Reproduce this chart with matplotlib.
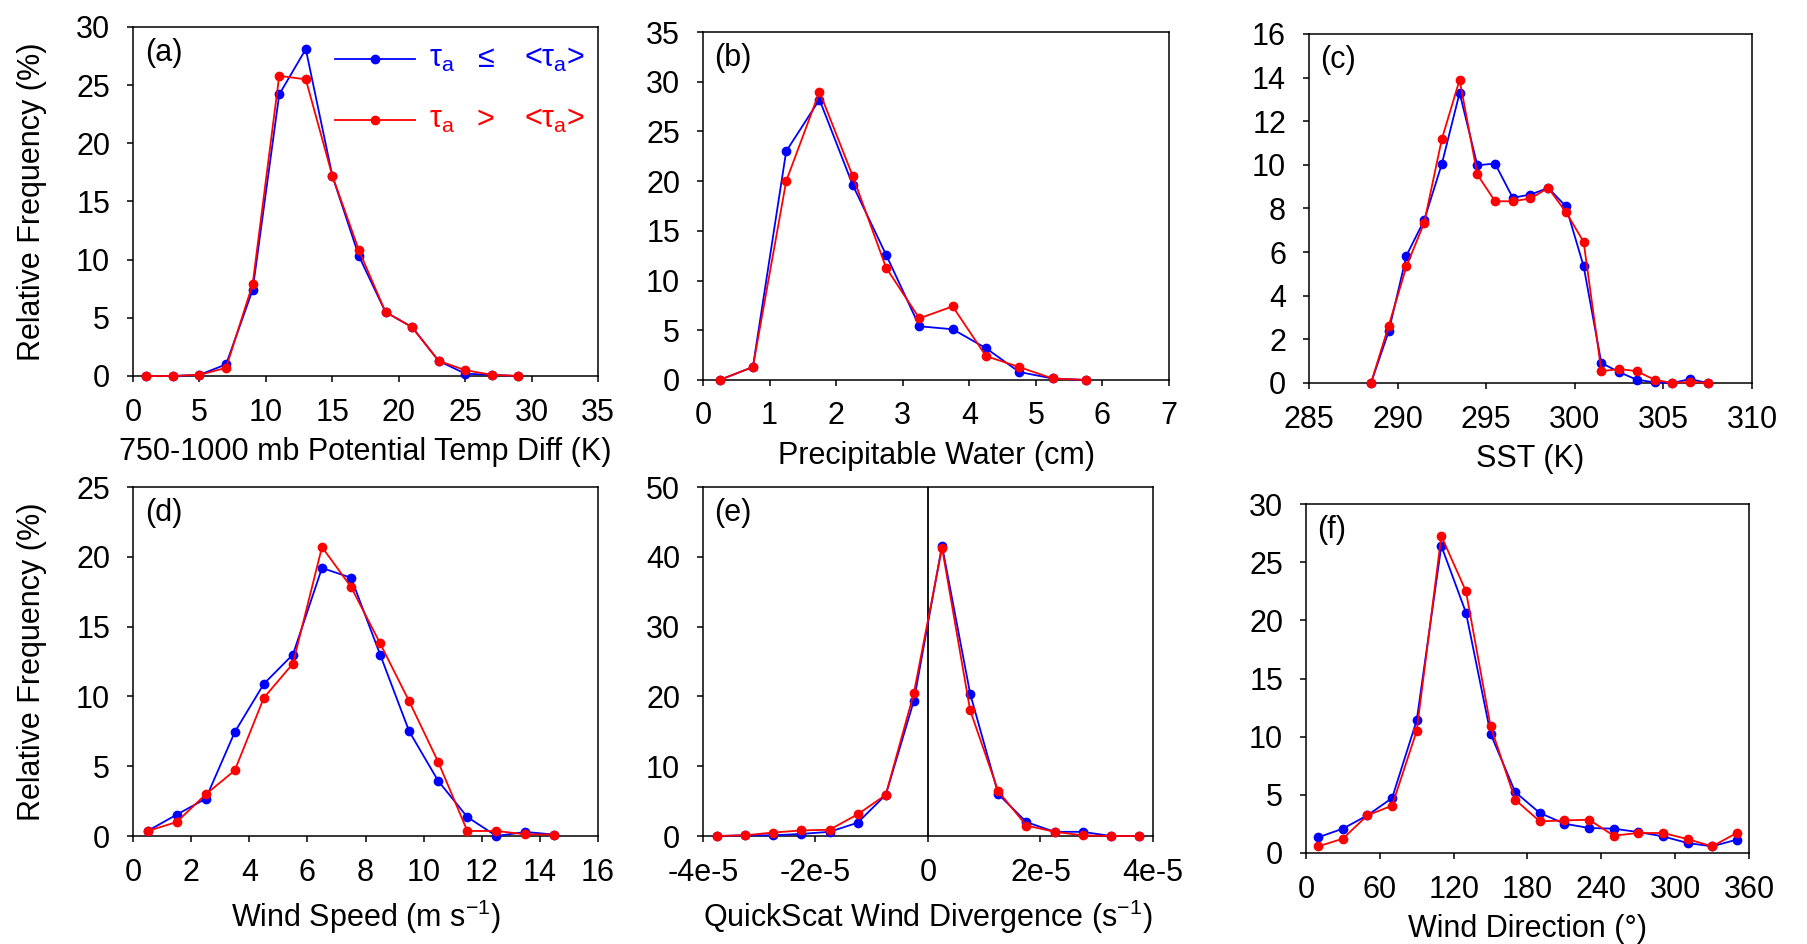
import numpy as np
import matplotlib
matplotlib.use("Agg")
import matplotlib.pyplot as plt
from matplotlib.ticker import FuncFormatter

plt.rcParams["font.family"] = ["Liberation Sans", "DejaVu Sans"]
plt.rcParams["mathtext.fontset"] = "custom"
plt.rcParams["mathtext.rm"] = "Liberation Sans"
plt.rcParams["mathtext.it"] = "Liberation Sans"
plt.rcParams["mathtext.bf"] = "Liberation Sans:bold"

# ---------------------------------------------------------------- data
# (a) 750-1000 mb potential temperature difference
theta_x = [1, 3, 5, 7, 9, 11, 13, 15, 17, 19, 21, 23, 25, 27, 29]
theta_lo = [0, 0, 0.1, 1.0, 7.4, 24.2, 28.1, 17.2, 10.3, 5.5, 4.2, 1.3, 0.2, 0.1, 0]
theta_hi = [0, 0, 0.1, 0.7, 7.9, 25.8, 25.5, 17.2, 10.8, 5.5, 4.2, 1.3, 0.5, 0.1, 0]

# (b) precipitable water
pw_x = [0.25, 0.75, 1.25, 1.75, 2.25, 2.75, 3.25, 3.75, 4.25, 4.75, 5.25, 5.75]
pw_lo = [0, 1.3, 23.0, 28.2, 19.6, 12.6, 5.4, 5.1, 3.2, 0.8, 0.15, 0]
pw_hi = [0, 1.3, 20.0, 29.0, 20.5, 11.3, 6.2, 7.4, 2.4, 1.3, 0.15, 0]

# (c) SST
sst_x = [288.5, 289.5, 290.5, 291.5, 292.5, 293.5, 294.5, 295.5, 296.5, 297.5,
         298.5, 299.5, 300.5, 301.5, 302.5, 303.5, 304.5, 305.5, 306.5, 307.5]
sst_lo = [0, 2.37, 5.84, 7.46, 10.05, 13.3, 9.98, 10.06, 8.49, 8.64,
          8.94, 8.1, 5.35, 0.92, 0.5, 0.15, 0.03, 0, 0.18, 0]
sst_hi = [0, 2.63, 5.35, 7.34, 11.19, 13.9, 9.56, 8.33, 8.33, 8.46,
          8.94, 7.84, 6.47, 0.54, 0.64, 0.54, 0.15, 0, 0.05, 0]

# (d) wind speed
ws_x = [0.5, 1.5, 2.5, 3.5, 4.5, 5.5, 6.5, 7.5, 8.5, 9.5, 10.5, 11.5, 12.5, 13.5, 14.5]
ws_lo = [0.36, 1.53, 2.67, 7.45, 10.9, 13.0, 19.2, 18.5, 13.0, 7.5, 3.94, 1.36, 0, 0.29, 0.1]
ws_hi = [0.36, 1.0, 2.98, 4.7, 9.9, 12.35, 20.7, 17.84, 13.8, 9.65, 5.3, 0.36, 0.36, 0.12, 0.1]

# (e) QuickScat wind divergence (s^-1)
div_x = [-3.75e-5, -3.25e-5, -2.75e-5, -2.25e-5, -1.75e-5, -1.25e-5, -0.75e-5, -0.25e-5,
         0.25e-5, 0.75e-5, 1.25e-5, 1.75e-5, 2.25e-5, 2.75e-5, 3.25e-5, 3.75e-5]
div_lo = [0, 0.1, 0.1, 0.3, 0.6, 1.9, 5.9, 19.4, 41.6, 20.4, 6.0, 2.0, 0.6, 0.6, 0, 0]
div_hi = [0, 0.1, 0.5, 0.8, 0.9, 3.1, 5.9, 20.5, 41.3, 18.0, 6.4, 1.5, 0.6, 0.1, 0, 0]

# (f) wind direction
wd_x = [10, 30, 50, 70, 90, 110, 130, 150, 170, 190, 210, 230, 250, 270, 290, 310, 330, 350]
wd_lo = [1.35, 2.09, 3.24, 4.72, 11.4, 26.4, 20.67, 10.25, 5.24, 3.44, 2.52, 2.15, 2.09, 1.8, 1.43, 0.86, 0.57, 1.15]
wd_hi = [0.57, 1.23, 3.24, 4.07, 10.5, 27.25, 22.5, 10.9, 4.58, 2.72, 2.8, 2.86, 1.49, 1.72, 1.72, 1.2, 0.57, 1.72]

BLUE = "#0000ff"
RED = "#ff0000"
FS = 22

fig = plt.figure(figsize=(18.08, 9.44), dpi=100)

boxes = {
    "a": [0.0736, 0.6017, 0.2572, 0.3697],
    "b": [0.3888, 0.5975, 0.2578, 0.3686],
    "c": [0.7240, 0.5943, 0.2450, 0.3697],
    "d": [0.0736, 0.1144, 0.2572, 0.3697],
    "e": [0.3888, 0.1144, 0.2489, 0.3697],
    "f": [0.7223, 0.0964, 0.2451, 0.3697],
}

panels = [
    ("a", theta_x, theta_lo, theta_hi, (0, 35), np.arange(0, 36, 5), (0, 30), np.arange(0, 31, 5),
     "750-1000 mb Potential Temp Diff (K)"),
    ("b", pw_x, pw_lo, pw_hi, (0, 7), np.arange(0, 8, 1), (0, 35), np.arange(0, 36, 5),
     "Precipitable Water (cm)"),
    ("c", sst_x, sst_lo, sst_hi, (285, 310), np.arange(285, 311, 5), (0, 16), np.arange(0, 17, 2),
     "SST (K)"),
    ("d", ws_x, ws_lo, ws_hi, (0, 16), np.arange(0, 17, 2), (0, 25), np.arange(0, 26, 5),
     r"Wind Speed (m s$^{\mathrm{-1}}$)"),
    ("e", div_x, div_lo, div_hi, (-4e-5, 4e-5), np.arange(-4e-5, 4.1e-5, 2e-5), (0, 50), np.arange(0, 51, 10),
     r"QuickScat Wind Divergence (s$^{\mathrm{-1}}$)"),
    ("f", wd_x, wd_lo, wd_hi, (0, 360), np.arange(0, 361, 60), (0, 30), np.arange(0, 31, 5),
     "Wind Direction (°)"),
]


def div_fmt(v, pos):
    if abs(v) < 1e-12:
        return "0"
    return f"{v * 1e5:.0f}e-5"


axes = {}
for key, x, lo, hi, xl, xt, yl, yt, xlabel in panels:
    ax = fig.add_axes(boxes[key])
    axes[key] = ax
    ax.plot(x, lo, "-o", color=BLUE, lw=1.3, ms=6, zorder=3, clip_on=False)
    ax.plot(x, hi, "-o", color=RED, lw=1.3, ms=6, zorder=4, clip_on=False)
    ax.set_xlim(*xl)
    ax.set_ylim(*yl)
    ax.set_xticks(xt)
    ax.set_yticks(yt)
    for s in ax.spines.values():
        s.set_linewidth(1.1)
    ax.tick_params(direction="out", length=4.5, width=1.1, labelsize=FS,
                   top=False, right=False)
    ax.tick_params(axis="x", pad=11)
    ax.tick_params(axis="y", pad=12)
    ax.set_xlabel(xlabel, fontsize=FS, labelpad=7)
    ax.text(0.025, 0.925, f"({key})", transform=ax.transAxes, fontsize=FS,
            ha="left", va="center")

axes["e"].xaxis.set_major_formatter(FuncFormatter(div_fmt))
axes["e"].axvline(0, color="black", lw=1.3, zorder=2)

for key in ("a", "d"):
    axes[key].set_ylabel("Relative Frequency (%)", fontsize=FS)
    axes[key].yaxis.set_label_coords(-0.185, 0.5)

# legend drawn by hand inside panel (a)
ax = axes["a"]
ax.plot([15.2, 21.2], [27.25, 27.25], color=BLUE, lw=1.3)
ax.plot([18.2], [27.25], "o", color=BLUE, ms=6)
ax.plot([15.2, 21.2], [22.0, 22.0], color=RED, lw=1.3)
ax.plot([18.2], [22.0], "o", color=RED, ms=6)
for yv, sym, col in ((27.25, "≤", BLUE), (22.0, ">", RED)):
    ax.text(22.3, yv, r"$\tau_{\mathrm{a}}$", color=col, fontsize=FS, va="center", ha="left")
    ax.text(26.5, yv, sym, color=col, fontsize=FS, va="center", ha="center")
    ax.text(29.4, yv, r"<$\tau_{\mathrm{a}}$>", color=col, fontsize=FS, va="center", ha="left")

fig.savefig("out.png", dpi=100)
